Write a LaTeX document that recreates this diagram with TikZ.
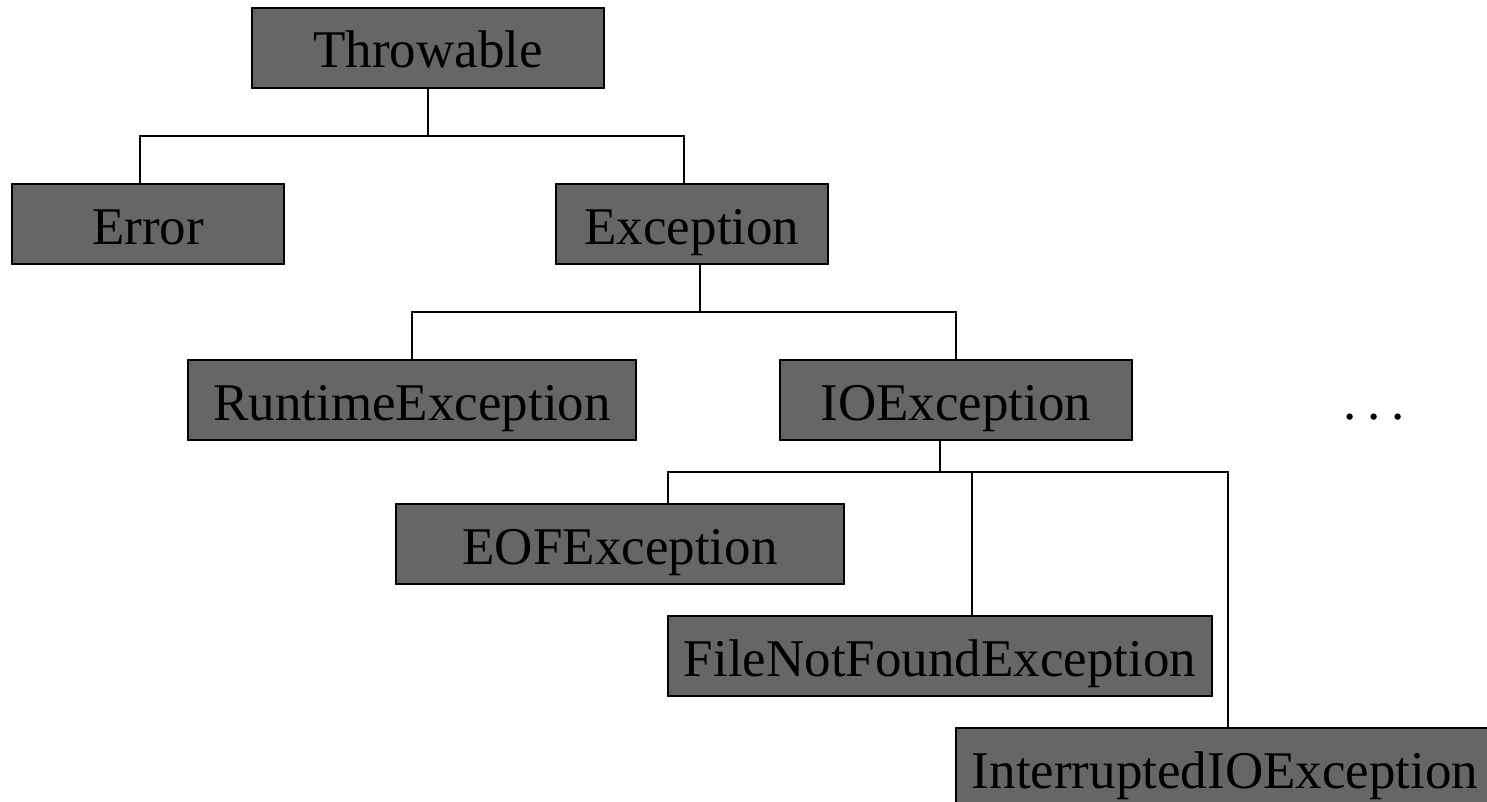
\documentclass[tikz,border=0pt]{standalone}
\usepackage{fontspec}
\setmainfont{Liberation Serif}
\definecolor{boxgray}{HTML}{666666}
\tikzset{
  cls/.style={draw=black, line width=1.6pt, fill=boxgray, inner sep=0pt,
    minimum height=80pt, text height=44pt, text depth=4pt,
    font=\fontsize{53}{60}\selectfont},
  link/.style={draw=black, line width=1.4pt}
}
\begin{document}
\begin{tikzpicture}[x=1pt,y=-1pt]
\useasboundingbox (0,0) rectangle (1487,802);
\clip (0,0) rectangle (1487,802);
\node[cls, minimum width=352pt] (thr) at (428,48) {Throwable};
\node[cls, minimum width=272pt] (err) at (148,224) {Error};
\node[cls, minimum width=272pt] (exc) at (692,224) {Exception};
\node[cls, minimum width=448pt] (rte) at (412,400) {RuntimeException};
\node[cls, minimum width=352pt] (ioe) at (956,400) {IOException};
\node[cls, minimum width=448pt] (eof) at (620,544) {EOFException};
\node[cls, minimum width=544pt] (fnf) at (940,656) {FileNotFoundException};
\node[cls, minimum width=538pt] (iie) at (1225,768) {InterruptedIOException};
\node[font=\fontsize{53}{60}\selectfont, anchor=base, inner sep=0pt] (dots) at (1374,419) {.\hspace{11pt}.\hspace{11pt}.};
% Throwable -> Error, Exception
\coordinate (j1) at (428,136);
\draw[link] (thr.south) -- (j1);
\draw[link] ([xshift=-8pt]err.north) -- ([xshift=-8pt]err.north |- j1) -- ([xshift=-8pt]exc.north |- j1) -- ([xshift=-8pt]exc.north);
% Exception -> RuntimeException, IOException
\coordinate (j2) at (700,312);
\draw[link] ([xshift=8pt]exc.south) -- (j2);
\draw[link] (rte.north) -- (rte.north |- j2) -- (ioe.north |- j2) -- (ioe.north);
% IOException -> EOF, FileNotFound, Interrupted
\coordinate (j3) at (940,472);
\draw[link] ([xshift=-16pt]ioe.south) -- (j3);
\draw[link] ([xshift=48pt]eof.north) -- ([xshift=48pt]eof.north |- j3) -- ([xshift=3pt]iie.north |- j3) -- ([xshift=3pt]iie.north);
\draw[link] ([xshift=32pt]fnf.north) -- ([xshift=32pt]fnf.north |- j3);
\end{tikzpicture}
\end{document}
